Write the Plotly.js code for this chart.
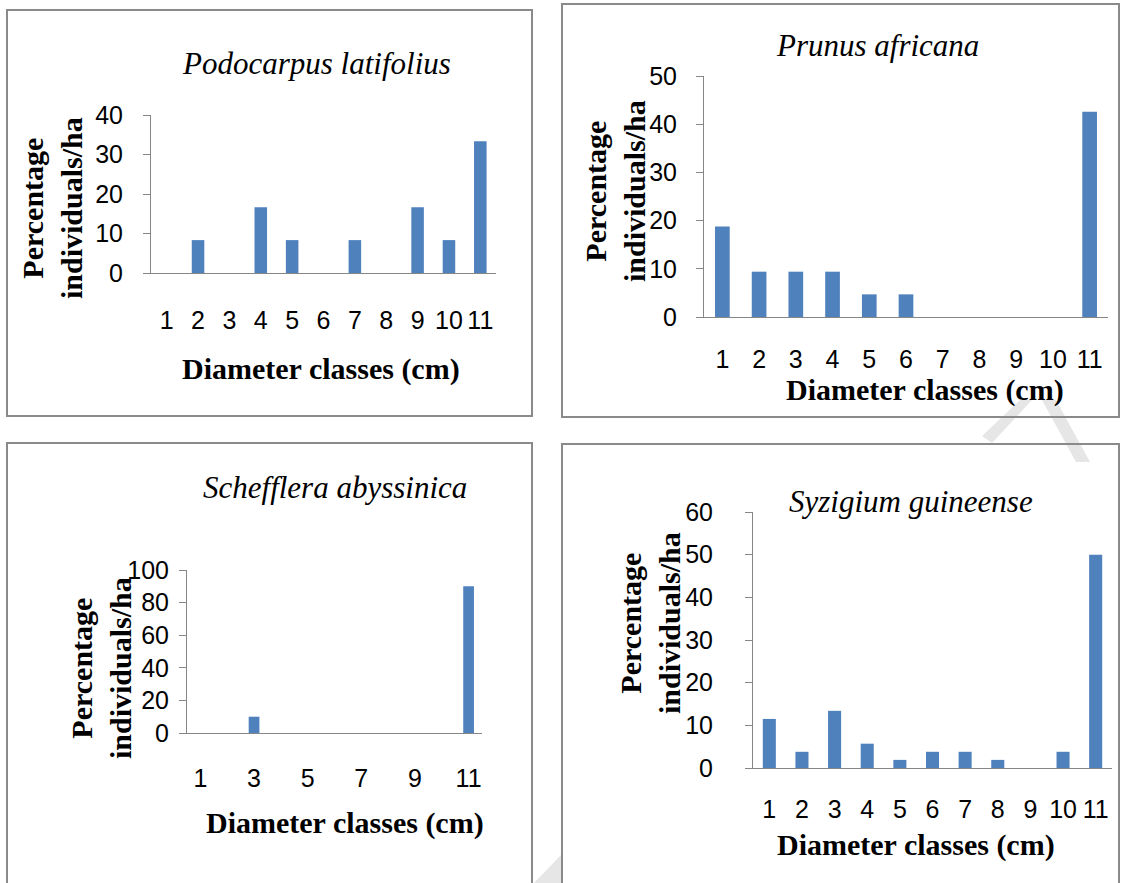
<!DOCTYPE html>
<html>
<head>
<meta charset="utf-8">
<script src="https://cdn.plot.ly/plotly-3.0.1.min.js"></script>
<style>
  html, body { margin: 0; padding: 0; background: #ffffff; }
  #chart { width: 1122px; height: 883px; }
</style>
</head>
<body>
<div id="chart"></div>
<script>
// ---- data ----
const classes = ['1', '2', '3', '4', '5', '6', '7', '8', '9', '10', '11'];
const oddTicks = ['1', '3', '5', '7', '9', '11'];
const podocarpus = [0, 8.33, 0, 16.67, 8.33, 0, 8.33, 0, 16.67, 8.33, 33.33];
const prunus = [18.8, 9.4, 9.4, 9.4, 4.7, 4.7, 0, 0, 0, 0, 42.6];
const schefflera = [0, 0, 10, 0, 0, 0, 0, 0, 0, 0, 90];
const syzigium = [11.5, 3.8, 13.4, 5.7, 1.9, 3.8, 3.8, 1.9, 0, 3.8, 50];
const speciesNames = ['Podocarpus latifolius', 'Prunus africana', 'Schefflera abyssinica', 'Syzigium guineense'];
const xTitle = 'Diameter classes (cm)';
const yTitle = 'Percentage<br>individuals/ha';

// ---- layout helpers (pixel -> paper) ----
const W = 1122, H = 883;
const px = v => v / W;
const py = v => 1 - v / H;

const barColor = '#4F81BD';
const axisGrey = '#868686';
const serif = 'Liberation Serif, Times New Roman, serif';
const sans = 'Liberation Sans, Arial, sans-serif';
const tickSize = 25;

// panel geometry: plot area, y range, dtick, label offsets, title positions
const panels = [
  { vals: podocarpus, x0: 151, x1: 496, yTop: 115, yBot: 273, ymax: 40, dtick: 10,
    xlab: 42, ygap: 25, ticks: classes,
    title: [316, 63], xt: [321, 369], yt: [52, 208] },
  { vals: prunus, x0: 704, x1: 1108, yTop: 76, yBot: 317, ymax: 50, dtick: 10,
    xlab: 37, ygap: 24, ticks: classes,
    title: [877, 45], xt: [925, 390], yt: [615, 191] },
  { vals: schefflera, x0: 187, x1: 482, yTop: 570, yBot: 733, ymax: 100, dtick: 20,
    xlab: 40, ygap: 15, ticks: oddTicks,
    title: [335, 487], xt: [345, 823], yt: [101, 668] },
  { vals: syzigium, x0: 753, x1: 1112, yTop: 512, yBot: 768, ymax: 60, dtick: 10,
    xlab: 36, ygap: 37, ticks: classes,
    title: [911, 502], xt: [916, 845], yt: [650, 623] }
];

const data = [];
const layout = {
  width: W, height: H,
  margin: { l: 0, r: 0, t: 0, b: 0 },
  paper_bgcolor: '#ffffff',
  plot_bgcolor: 'rgba(0,0,0,0)',
  showlegend: false,
  bargap: 0.6,
  annotations: [],
  shapes: []
};

// faint watermark strokes (behind the frames)
layout.shapes.push(
  { type: 'path', xref: 'paper', yref: 'paper', layer: 'below',
    path: `M ${px(982)} ${py(436)} L ${px(1020)} ${py(400)} L ${px(1032)} ${py(400)} L ${px(992)} ${py(443)} Z`,
    fillcolor: '#e6e6e6', line: { width: 0 } },
  { type: 'path', xref: 'paper', yref: 'paper', layer: 'below',
    path: `M ${px(1042)} ${py(400)} L ${px(1056)} ${py(400)} L ${px(1090)} ${py(462)} L ${px(1076)} ${py(462)} Z`,
    fillcolor: '#e6e6e6', line: { width: 0 } },
  { type: 'path', xref: 'paper', yref: 'paper', layer: 'below',
    path: `M ${px(534)} ${py(883)} L ${px(561)} ${py(855)} L ${px(561)} ${py(883)} Z`,
    fillcolor: '#e6e6e6', line: { width: 0 } }
);

// panel frames
const frames = [[7, 10, 532, 416], [562, 4, 1119, 417], [7, 443, 532, 895], [562, 444, 1119, 895]];
frames.forEach(f => {
  layout.shapes.push({ type: 'rect', xref: 'paper', yref: 'paper',
    x0: px(f[0]), x1: px(f[2]), y0: py(f[3]), y1: py(f[1]),
    line: { color: '#8a8a8a', width: 2 }, fillcolor: 'rgba(0,0,0,0)' });
});

panels.forEach((p, i) => {
  const n = i + 1;
  const xa = n === 1 ? 'x' : 'x' + n;
  const ya = n === 1 ? 'y' : 'y' + n;
  data.push({
    type: 'bar', x: classes, y: p.vals, xaxis: xa, yaxis: ya,
    marker: { color: barColor, line: { width: 0 } },
    hoverinfo: 'x+y'
  });
  const xkey = n === 1 ? 'xaxis' : 'xaxis' + n;
  const ykey = n === 1 ? 'yaxis' : 'yaxis' + n;
  layout[xkey] = {
    domain: [px(p.x0), px(p.x1)], anchor: ya,
    type: 'category', categoryorder: 'array', categoryarray: classes,
    range: [-0.5, 10.5],
    tickmode: 'array', tickvals: p.ticks, ticktext: p.ticks,
    showline: true, linecolor: axisGrey, linewidth: 1,
    ticks: 'outside', ticklen: p.xlab - 17, tickcolor: 'rgba(0,0,0,0)',
    showgrid: false, zeroline: false,
    tickfont: { family: sans, size: tickSize, color: '#000000' }
  };
  layout[ykey] = {
    domain: [py(p.yBot), py(p.yTop)], anchor: xa,
    range: [0, p.ymax], dtick: p.dtick, tick0: 0,
    showline: true, linecolor: axisGrey, linewidth: 1,
    ticks: 'outside', ticklen: 7, tickcolor: axisGrey,
    ticklabelstandoff: Math.max(0, p.ygap - 10),
    showgrid: false, zeroline: false,
    tickfont: { family: sans, size: tickSize, color: '#000000' }
  };
  // chart title
  layout.annotations.push({
    xref: 'paper', yref: 'paper', x: px(p.title[0]), y: py(p.title[1]),
    xanchor: 'center', yanchor: 'middle', showarrow: false,
    text: '<i>' + speciesNames[i] + '</i>',
    font: { family: serif, size: 31, color: '#000000' }
  });
  // x axis title
  layout.annotations.push({
    xref: 'paper', yref: 'paper', x: px(p.xt[0]), y: py(p.xt[1]),
    xanchor: 'center', yanchor: 'middle', showarrow: false,
    text: '<b>' + xTitle + '</b>',
    font: { family: serif, size: 30, color: '#000000' }
  });
  // y axis title
  layout.annotations.push({
    xref: 'paper', yref: 'paper', x: px(p.yt[0]), y: py(p.yt[1]),
    xanchor: 'center', yanchor: 'middle', showarrow: false, textangle: -90,
    text: '<b>' + yTitle + '</b>',
    font: { family: serif, size: 30, color: '#000000' }
  });
});

Plotly.newPlot('chart', data, layout, { staticPlot: true, displayModeBar: false });
</script>
</body>
</html>
